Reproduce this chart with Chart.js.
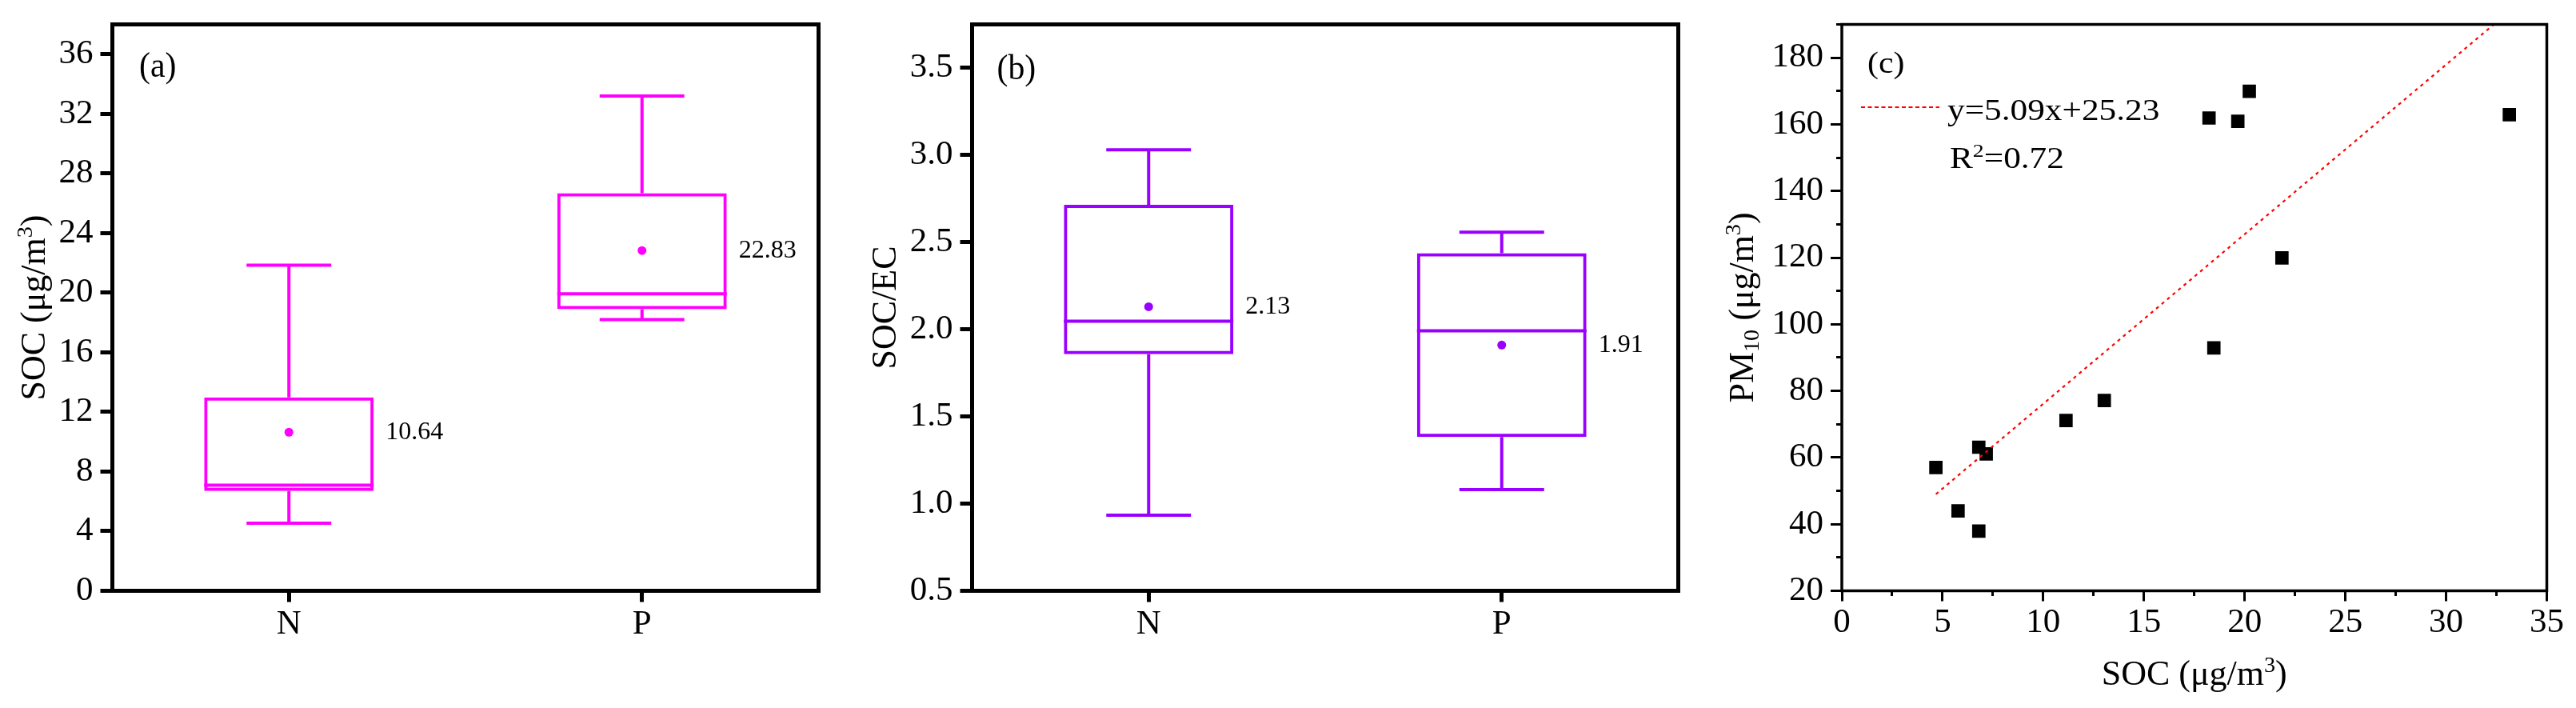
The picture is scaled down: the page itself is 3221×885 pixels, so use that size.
<!DOCTYPE html>
<html>
<head>
<meta charset="utf-8">
<script src="https://cdn.jsdelivr.net/npm/chart.js@4/dist/chart.umd.min.js"></script>
<style>
  html, body { margin: 0; padding: 0; background: #fff; }
  body { width: 3221px; height: 885px; position: relative; overflow: hidden; }
  canvas { position: absolute; top: 0; }
</style>
</head>
<body>
<canvas id="ca" width="1080" height="885" style="left:0px;width:1080px;height:885px"></canvas>
<canvas id="cb" width="1060" height="885" style="left:1080px;width:1060px;height:885px"></canvas>
<canvas id="cc" width="1081" height="885" style="left:2140px;width:1081px;height:885px"></canvas>
<script>
// ---------------- data ----------------
const CATS = ['N', 'P'];

// (a) SOC (ug/m3) box statistics
const SOC_MIN  = [4.53, 18.20];
const SOC_Q1   = [6.70, 18.89];
const SOC_MED  = [7.09, 19.92];
const SOC_Q3   = [12.98, 26.67];
const SOC_MAX  = [21.85, 33.19];
const SOC_MEAN = [10.64, 22.83];

// (b) SOC/EC box statistics
const RAT_MIN  = [0.934, 1.081];
const RAT_Q1   = [1.858, 1.383];
const RAT_MED  = [2.047, 1.992];
const RAT_Q3   = [2.715, 2.437];
const RAT_MAX  = [3.03, 2.558];
const RAT_MEAN = [2.13, 1.91];

// (c) SOC vs PM10 scatter
const SC_SOC  = [4.67, 5.77, 6.80, 7.17, 6.80, 11.13, 13.03, 18.47, 18.23, 19.66, 20.23, 21.85, 33.14];
const SC_PM10 = [57.0, 44.0, 63.1, 61.1, 37.9, 71.1, 77.1, 92.9, 161.9, 160.9, 169.9, 119.9, 162.9];
const FIT_SLOPE = 5.09;
const FIT_ICPT = 25.23;
const FIT_R2 = 0.72;

// tick values / labels
const A_YTICKS  = [0, 4, 8, 12, 16, 20, 24, 28, 32, 36];
const A_YLABELS = ['0', '4', '8', '12', '16', '20', '24', '28', '32', '36'];
const B_YTICKS  = [0.5, 1.0, 1.5, 2.0, 2.5, 3.0, 3.5];
const B_YLABELS = ['0.5', '1.0', '1.5', '2.0', '2.5', '3.0', '3.5'];
const C_XMAJOR  = [0, 5, 10, 15, 20, 25, 30, 35];
const C_XMINOR  = [2.5, 7.5, 12.5, 17.5, 22.5, 27.5, 32.5];
const C_YMAJOR  = [20, 40, 60, 80, 100, 120, 140, 160, 180];
const C_YMINOR  = [30, 50, 70, 90, 110, 130, 150, 170, 190];

// axis titles (rich text segments)
const T_SOC   = [{ t: 'SOC (μg/m' }, { t: '3', sup: true }, { t: ')' }];
const T_RATIO = [{ t: 'SOC/EC' }];
const T_PM10  = [{ t: 'PM' }, { t: '10', sub: true }, { t: ' (μg/m' }, { t: '3', sup: true }, { t: ')' }];

// ---------------- styles ----------------
const SERIF = "'Liberation Serif', 'Times New Roman', 'DejaVu Serif', serif";
const MAGENTA = '#FF00FF';
const VIOLET = '#9A00FF';
const BOX_FRAC = 0.48;
const TICK_FONT = { family: SERIF, size: 43, lineHeight: 1 };
const TITLE_SIZE = 44;

function drawText(ctx, txt, x, y, size, sx, align, baseline) {
  ctx.save();
  ctx.font = size + 'px ' + SERIF;
  ctx.fillStyle = '#000';
  ctx.textAlign = align || 'left';
  ctx.textBaseline = baseline || 'alphabetic';
  ctx.translate(x, y);
  ctx.scale(sx, 1);
  ctx.fillText(txt, 0, 0);
  ctx.restore();
}

// rich text: segments with optional sup/sub; anchored at (x,y) = left/center of text, alphabetic baseline
function drawRich(ctx, segs, x, y, size, sx, align, rot) {
  const fs = s => (s.sup || s.sub) ? size * 0.64 : size;
  ctx.save();
  ctx.fillStyle = '#000';
  ctx.textBaseline = 'alphabetic';
  ctx.textAlign = 'left';
  let w = 0;
  segs.forEach(s => { ctx.font = fs(s) + 'px ' + SERIF; w += ctx.measureText(s.t).width; });
  ctx.translate(x, y);
  if (rot) ctx.rotate(rot);
  ctx.scale(sx, 1);
  let cx = align === 'center' ? -w / 2 : 0;
  segs.forEach(s => {
    ctx.font = fs(s) + 'px ' + SERIF;
    const dy = s.sup ? -0.37 * size : (s.sub ? 0.16 * size : 0);
    ctx.fillText(s.t, cx, dy);
    cx += ctx.measureText(s.t).width;
  });
  ctx.restore();
}

function framePlugin(lw) {
  return {
    id: 'frame',
    afterDraw(chart) {
      const a = chart.chartArea, ctx = chart.ctx;
      ctx.save();
      ctx.strokeStyle = '#000';
      ctx.lineWidth = lw;
      ctx.lineJoin = 'miter';
      ctx.strokeRect(a.left, a.top, a.right - a.left, a.bottom - a.top);
      ctx.restore();
    }
  };
}

function panelLabel(txt, dx, dy, size, sx) {
  return {
    id: 'panelLabel',
    afterDraw(chart) {
      const a = chart.chartArea;
      drawText(chart.ctx, txt, a.left + dx, a.top + dy, size, sx, 'left', 'alphabetic');
    }
  };
}

// axis titles: y title centred at local x = yCx; x title centred at local y = xCy
function titlesPlugin(ySegs, yCx, xSegs, xCy) {
  return {
    id: 'axisTitles',
    afterDraw(chart) {
      const a = chart.chartArea, ctx = chart.ctx;
      const mid = 0.3375 * TITLE_SIZE;
      if (ySegs) drawRich(ctx, ySegs, yCx + mid, (a.top + a.bottom) / 2, TITLE_SIZE, 1, 'center', -Math.PI / 2);
      if (xSegs) drawRich(ctx, xSegs, (a.left + a.right) / 2, xCy + mid, TITLE_SIZE, 1, 'center', 0);
    }
  };
}

function boxChart(id, st, color, yCfg, yWidth, padRight, titleSegs, titleCx, label) {
  const halfBox = ch => ch.scales.x.width / CATS.length * BOX_FRAC / 2;
  const valueLabels = {
    id: 'valueLabels',
    afterDatasetsDraw(chart) {
      const bm = chart.getDatasetMeta(0), mm = chart.getDatasetMeta(6);
      mm.data.forEach((p, i) => {
        const b = bm.data[i];
        drawText(chart.ctx, st.mean[i].toFixed(2), b.x + b.width / 2 + 15, p.y, 32, 1, 'left', 'middle');
      });
    }
  };
  const capOpts = {
    type: 'line', showLine: false, pointStyle: 'line',
    pointRadius: c => halfBox(c.chart) / 2,
    pointBorderWidth: 4, pointBorderColor: color, pointBackgroundColor: color
  };
  return new Chart(document.getElementById(id), {
    type: 'bar',
    data: {
      labels: CATS,
      datasets: [
        { type: 'bar', data: CATS.map((_, i) => [st.q1[i], st.q3[i]]),
          backgroundColor: 'rgba(0,0,0,0)', borderColor: color, borderWidth: 4,
          borderSkipped: false, grouped: false, barPercentage: BOX_FRAC, categoryPercentage: 1 },
        { type: 'bar', data: CATS.map((_, i) => [st.min[i], st.q1[i]]),
          backgroundColor: color, borderWidth: 0, grouped: false, maxBarThickness: 4 },
        { type: 'bar', data: CATS.map((_, i) => [st.q3[i], st.max[i]]),
          backgroundColor: color, borderWidth: 0, grouped: false, maxBarThickness: 4 },
        Object.assign({ data: st.min }, capOpts),
        Object.assign({ data: st.max }, capOpts),
        { type: 'line', data: st.med, showLine: false, pointStyle: 'line',
          pointRadius: c => halfBox(c.chart), pointBorderWidth: 4,
          pointBorderColor: color, pointBackgroundColor: color },
        { type: 'line', data: st.mean, showLine: false, pointStyle: 'circle',
          pointRadius: 5.5, pointBorderWidth: 0, pointBackgroundColor: color, pointBorderColor: color }
      ]
    },
    options: {
      responsive: false, animation: false, devicePixelRatio: 1, events: [],
      layout: { padding: { left: 0, top: 26.5, right: padRight, bottom: 0 } },
      plugins: { legend: { display: false }, tooltip: { enabled: false } },
      scales: {
        x: {
          type: 'category', offset: true,
          grid: { display: true, drawOnChartArea: false, drawTicks: true, offset: false,
                  tickLength: 14, tickWidth: 5, lineWidth: 5, tickColor: '#000' },
          border: { display: false },
          ticks: { font: TICK_FONT, color: '#000', padding: 7, maxRotation: 0, autoSkip: false },
          afterFit: s => { s.height = 146.5; }
        },
        y: Object.assign({
          grid: { display: true, drawOnChartArea: false, drawTicks: true,
                  tickLength: 15, tickWidth: 5, lineWidth: 5, tickColor: '#000' },
          border: { display: false },
          afterFit: s => { s.width = yWidth; }
        }, yCfg)
      }
    },
    plugins: [valueLabels, framePlugin(5), label, titlesPlugin(titleSegs, titleCx, null, 0)]
  });
}

// (a)
boxChart('ca',
  { min: SOC_MIN, q1: SOC_Q1, med: SOC_MED, q3: SOC_Q3, max: SOC_MAX, mean: SOC_MEAN },
  MAGENTA,
  { min: 0, max: 38,
    afterBuildTicks: s => { s.ticks = A_YTICKS.map(v => ({ value: v })); },
    ticks: { font: TICK_FONT, color: '#000', padding: 9, autoSkip: false,
             callback: v => A_YLABELS[A_YTICKS.indexOf(v)] } },
  140.5, 56.5, T_SOC, 41,
  panelLabel('(a)', 33.5, 65.5, 45, 0.93));

// (b)
boxChart('cb',
  { min: RAT_MIN, q1: RAT_Q1, med: RAT_MED, q3: RAT_Q3, max: RAT_MAX, mean: RAT_MEAN },
  VIOLET,
  { min: 0.5, max: 3.75,
    afterBuildTicks: s => { s.ticks = B_YTICKS.map(v => ({ value: v })); },
    ticks: { font: TICK_FONT, color: '#000', padding: 9, autoSkip: false,
             callback: v => B_YLABELS[B_YTICKS.findIndex(t => Math.abs(t - v) < 1e-9)] } },
  135.5, 41.5, T_RATIO, 25,
  panelLabel('(b)', 31, 68.5, 45, 0.93));

// (c)
(function () {
  const xAll = C_XMAJOR.concat(C_XMINOR).sort((a, b) => a - b);
  const yAll = C_YMAJOR.concat(C_YMINOR).sort((a, b) => a - b);
  const isMajor = (arr, v) => arr.some(t => Math.abs(t - v) < 1e-9);
  const xmin = Math.min(...SC_SOC), xmax = Math.max(...SC_SOC);
  const legend = {
    id: 'fitLegend',
    afterDraw(chart) {
      const a = chart.chartArea, ctx = chart.ctx;
      ctx.save();
      ctx.strokeStyle = '#FF0000';
      ctx.lineWidth = 2.2;
      ctx.setLineDash([5, 3.5]);
      ctx.beginPath();
      ctx.moveTo(a.left + 24, a.top + 103.5);
      ctx.lineTo(a.left + 122, a.top + 103.5);
      ctx.stroke();
      ctx.restore();
      drawText(ctx, 'y=' + FIT_SLOPE.toFixed(2) + 'x+' + FIT_ICPT.toFixed(2), a.left + 132, a.top + 119.5, 37, 1.17, 'left', 'alphabetic');
      drawRich(ctx, [{ t: 'R' }, { t: '2', sup: true }, { t: '=' + FIT_R2.toFixed(2) }], a.left + 135, a.top + 179.5, 37, 1.17, 'left', 0);
    }
  };
  new Chart(document.getElementById('cc'), {
    type: 'scatter',
    data: {
      datasets: [
        { data: [{ x: xmin, y: FIT_SLOPE * xmin + FIT_ICPT }, { x: xmax, y: FIT_SLOPE * xmax + FIT_ICPT }],
          showLine: true, pointRadius: 0, borderColor: '#FF0000', borderWidth: 2.2, borderDash: [4, 5] },
        { data: SC_SOC.map((x, i) => ({ x: x, y: SC_PM10[i] })),
          pointStyle: 'rect', pointRadius: 11.8, pointBackgroundColor: '#000', pointBorderWidth: 0,
          backgroundColor: '#000', borderColor: '#000' }
      ]
    },
    options: {
      responsive: false, animation: false, devicePixelRatio: 1, events: [],
      layout: { padding: { left: 0, top: 26.5, right: 36.5, bottom: 0 } },
      plugins: { legend: { display: false }, tooltip: { enabled: false } },
      scales: {
        x: {
          type: 'linear', min: 0, max: 35,
          afterBuildTicks: s => { s.ticks = xAll.map(v => ({ value: v })); },
          grid: { display: true, drawOnChartArea: false, drawTicks: true,
                  tickLength: 13, tickWidth: 3, lineWidth: 3, tickColor: '#000',
                  tickBorderDash: c => (c.tick && !isMajor(C_XMAJOR, c.tick.value)) ? [6, 100] : [] },
          border: { display: false },
          ticks: { font: TICK_FONT, color: '#000', padding: 6, maxRotation: 0, autoSkip: false,
                   callback: v => isMajor(C_XMAJOR, v) ? String(v) : '' },
          afterFit: s => { s.height = 146.5; }
        },
        y: {
          type: 'linear', min: 20, max: 190,
          afterBuildTicks: s => { s.ticks = yAll.map(v => ({ value: v })); },
          grid: { display: true, drawOnChartArea: false, drawTicks: true,
                  tickLength: 14, tickWidth: 3, lineWidth: 3, tickColor: '#000',
                  tickBorderDash: c => (c.tick && !isMajor(C_YMAJOR, c.tick.value)) ? [0, 7, 7, 100] : [] },
          border: { display: false },
          ticks: { font: TICK_FONT, color: '#000', padding: 9, autoSkip: false,
                   callback: v => isMajor(C_YMAJOR, v) ? String(v) : '' },
          afterFit: s => { s.width = 163; }
        }
      }
    },
    plugins: [framePlugin(3.5), legend, panelLabel('(c)', 32, 60, 38, 1.1),
              titlesPlugin(T_PM10, 37, [{ t: 'SOC (μg/m' }, { t: '3', sup: true }, { t: ')' }], 841)]
  });
})();
</script>
</body>
</html>
